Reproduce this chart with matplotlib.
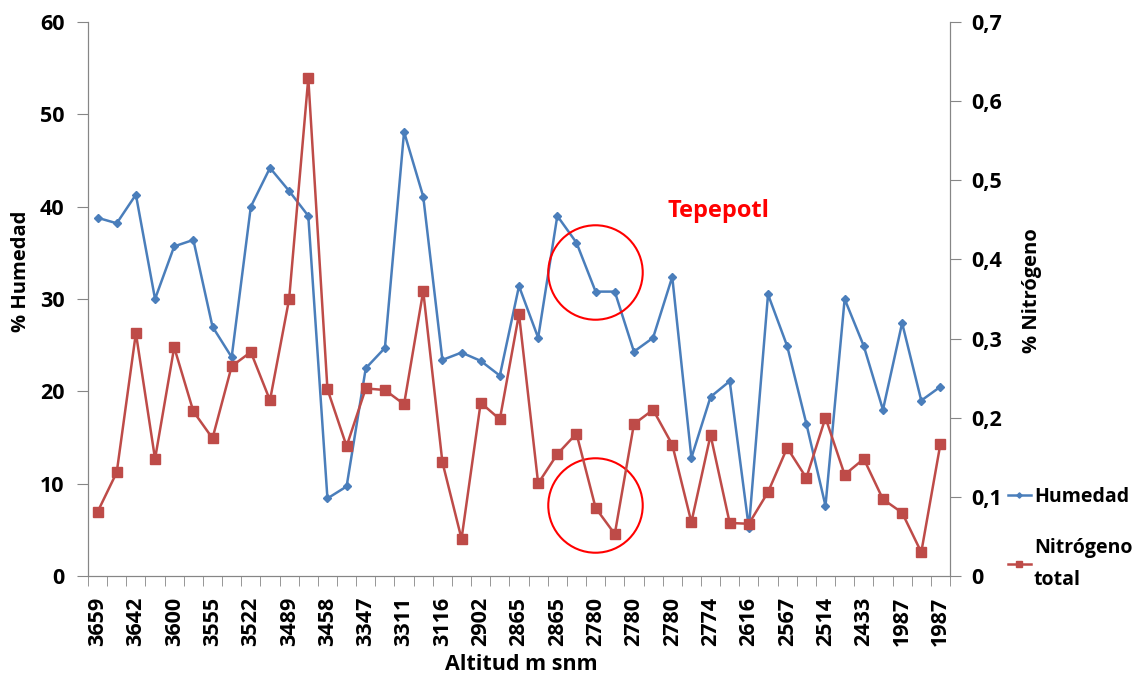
import numpy as np
import matplotlib.pyplot as plt

plt.rcParams['font.family'] = ['Open Sans', 'DejaVu Sans']
plt.rcParams['font.weight'] = 'bold'

# Datos (45 muestras, etiqueta cada dos)
altitudes = ["3659", "3642", "3600", "3555", "3522", "3489", "3458", "3347",
             "3311", "3116", "2902", "2865", "2865", "2780", "2780", "2780",
             "2774", "2616", "2567", "2514", "2433", "1987", "1987"]

humedad = [38.8, 38.2, 41.3, 30.0, 35.7, 36.4, 27.0, 23.7, 40.0, 44.2,
           41.7, 39.0, 8.4, 9.7, 22.5, 24.7, 48.1, 41.1, 23.4, 24.2,
           23.3, 21.7, 31.4, 25.8, 39.0, 36.1, 30.8, 30.8, 24.3, 25.8,
           32.4, 12.8, 19.4, 21.1, 5.2, 30.5, 24.9, 16.5, 7.6, 30.0,
           24.9, 18.0, 27.4, 19.0, 20.5]

nitrogeno = [0.081, 0.131, 0.307, 0.148, 0.289, 0.208, 0.174, 0.265, 0.283, 0.222,
             0.350, 0.629, 0.236, 0.164, 0.237, 0.235, 0.217, 0.360, 0.144, 0.047,
             0.219, 0.198, 0.331, 0.117, 0.154, 0.180, 0.086, 0.053, 0.192, 0.210,
             0.166, 0.068, 0.178, 0.067, 0.066, 0.106, 0.162, 0.124, 0.200, 0.128,
             0.148, 0.097, 0.080, 0.030, 0.167]

azul = "#4A7EBB"
rojo = "#BE4B48"
gris = "#868686"

x = np.arange(len(humedad))

fig = plt.figure(figsize=(11.46, 6.77), dpi=100)
ax = fig.add_axes([88 / 1146, 1 - 576 / 677, 862 / 1146, 554 / 677])
ax2 = ax.twinx()

l1, = ax.plot(x, humedad, color=azul, lw=1.8, marker="D", ms=4.5, label="Humedad")
l2, = ax2.plot(x, nitrogeno, color=rojo, lw=1.8, marker="s", ms=6.5, label="Nitrógeno\ntotal")

ax.set_xlim(-0.5, len(humedad) - 0.5)
ax.set_ylim(0, 60)
ax2.set_ylim(0, 0.7)
ax.set_yticks(np.arange(0, 61, 10))
ax2.set_yticks(np.arange(0, 0.71, 0.1))
ax2.set_yticklabels(["0"] + ["0,%d" % i for i in range(1, 8)])

ax.set_xticks(x[::2])
ax.set_xticklabels(altitudes, rotation=90)
ax.set_xticks(np.arange(-0.5, len(humedad), 1), minor=True)
ax.tick_params(axis="x", which="major", length=0, pad=15, labelsize=15.5)
ax.tick_params(axis="x", which="minor", length=7, color=gris, direction="out")
ax.tick_params(axis="y", length=8, color=gris, labelsize=15.5, pad=9)
ax2.tick_params(axis="y", length=8, color=gris, labelsize=15.5, pad=7)

for a in (ax, ax2):
    a.spines["top"].set_visible(False)
    for s in ("left", "right", "bottom"):
        a.spines[s].set_color(gris)

ax.set_ylabel("% Humedad", fontsize=14.5, fontweight="bold")
ax.yaxis.set_label_coords(-0.066, 0.55)
ax2.set_ylabel("% Nitrógeno", fontsize=14.5, fontweight="bold", rotation=90)
ax2.yaxis.set_label_coords(1.083, 0.516)
ax.set_xlabel("Altitud m snm", fontsize=15.5, fontweight="bold")
ax.xaxis.set_label_coords(0.503, -0.140)

# Circulos y anotacion Tepepotl
ax.plot([25.95], [32.9], marker="o", ms=68, mfc="none", mec="red", mew=1.5)
ax.plot([25.95], [7.7], marker="o", ms=68, mfc="none", mec="red", mew=1.5)
ax.text(32.4, 39.5, "Tepepotl", color="red", fontsize=17, fontweight="bold",
        ha="center", va="center")

leg = fig.legend(handles=[l1, l2], loc="upper left", bbox_to_anchor=(994 / 1146, 1 - 473 / 677),
                 frameon=False, fontsize=14, handlelength=1.2, handletextpad=0.15,
                 labelspacing=1.6, markerscale=0.6, borderpad=0.2)
leg.get_texts()[1].set_linespacing(1.8)

fig.savefig("out.png", dpi=100)
